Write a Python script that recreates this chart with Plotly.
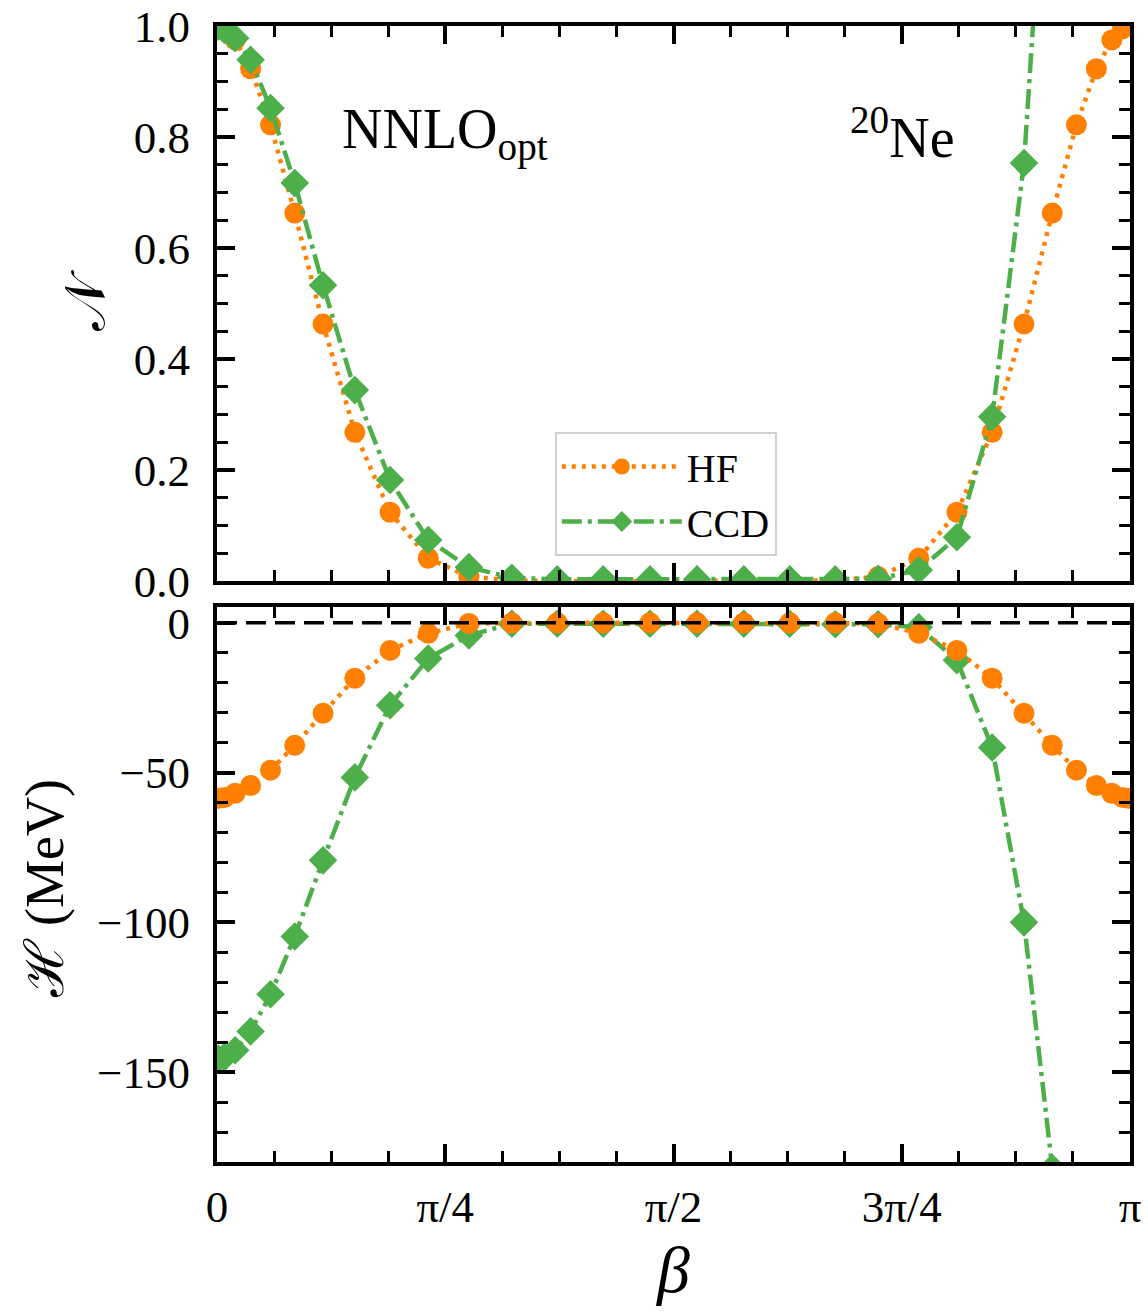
import math
import plotly.graph_objects as go

# ---------------- data ----------------
beta = [0.0047, 0.0255, 0.0626, 0.1157, 0.1843, 0.2675, 0.3648, 0.4743, 0.5956, 0.7268,
        0.8667, 1.0142, 1.1707, 1.3290, 1.4899, 1.6517, 1.8126, 1.9709, 2.1274, 2.2749,
        2.4148, 2.5460, 2.6673, 2.7768, 2.8741, 2.9573, 3.0259, 3.0790, 3.1162, 3.1369]

hf_norm = [1.000, 0.995, 0.975, 0.923, 0.822, 0.663, 0.463, 0.268, 0.124, 0.041,
           0.008, 0.001, 0.000, 0.000, 0.000, 0.000, 0.000, 0.000, 0.001, 0.008,
           0.041, 0.124, 0.268, 0.463, 0.663, 0.822, 0.923, 0.975, 0.995, 1.000]

ccd_norm = [0.999, 0.993, 0.978, 0.939, 0.852, 0.717, 0.533, 0.344, 0.182, 0.074,
            0.025, 0.006, 0.003, 0.003, 0.003, 0.003, 0.003, 0.003, 0.003, 0.004,
            0.020, 0.079, 0.296, 0.753, 1.530]

hf_energy = [-58.6, -58.3, -56.9, -54.3, -49.2, -40.9, -30.2, -18.5, -9.2, -3.5,
             -0.2, 0.0, 0.0, 0.0, 0.0, 0.0, 0.0, 0.0, 0.0, -0.2,
             -3.5, -9.2, -18.5, -30.2, -40.9, -49.2, -54.3, -56.9, -58.3, -58.6]

ccd_energy = [-145.5, -145.0, -142.7, -136.4, -124.0, -104.7, -79.3, -51.6, -27.5, -11.9,
              -4.2, -0.3, -0.3, -0.3, -0.3, -0.3, -0.3, -0.3, -0.5, -0.5,
              -1.5, -12.5, -41.6, -100.0, -182.0]

x_tickvals = [0, math.pi / 4, math.pi / 2, 3 * math.pi / 4, math.pi]
x_ticktext = ["0", "π/4", "π/2", "3π/4", "π"]
h_tickvals = [0, -50, -100, -150]

# ---------------- styling ----------------
FONT = "Liberation Serif"
ORANGE = "#ff7f00"
GREEN = "#4daf4a"
HF_STYLE = dict(line=dict(color=ORANGE, width=4.5, dash="4px,6px"),
                marker=dict(symbol="circle", size=21, color=ORANGE))
CCD_STYLE = dict(line=dict(color=GREEN, width=4.5, dash="20px,6px,4px,6px"),
                 marker=dict(symbol="diamond", size=22, color=GREEN))

fig = go.Figure()

# top panel: N
fig.add_trace(go.Scatter(x=beta, y=hf_norm, mode="lines+markers", name="HF",
                         xaxis="x", yaxis="y", legendrank=1, **HF_STYLE))
fig.add_trace(go.Scatter(x=beta[:len(ccd_norm)], y=ccd_norm, mode="lines+markers", name="CCD",
                         xaxis="x", yaxis="y", legendrank=2, **CCD_STYLE))
# bottom panel: H
fig.add_trace(go.Scatter(x=beta[:len(ccd_energy)], y=ccd_energy, mode="lines+markers", name="CCD",
                         xaxis="x2", yaxis="y2", showlegend=False, **CCD_STYLE))
fig.add_trace(go.Scatter(x=beta, y=hf_energy, mode="lines+markers", name="HF",
                         xaxis="x2", yaxis="y2", showlegend=False, **HF_STYLE))

fig.add_hline(y=0, line=dict(color="black", width=3.5, dash="20px,9px"),
              xref="x2", yref="y2", layer="above")

axis_common = dict(showline=True, linewidth=4, linecolor="black", mirror="allticks",
                   ticks="inside", ticklen=18, tickwidth=3.5, tickcolor="black",
                   showgrid=False, zeroline=False, automargin=False,
                   tickfont=dict(family=FONT, size=45, color="black"))
minor_common = dict(ticks="inside", ticklen=11, tickwidth=2.5, tickcolor="black", showgrid=False)

TOP_DOMAIN = [0.5114, 1.0]
BOT_DOMAIN = [0.0, 0.4886]

fig.update_layout(
    width=1148, height=1314,
    margin=dict(l=217, r=18, t=26, b=152),
    paper_bgcolor="white", plot_bgcolor="white",
    font=dict(family=FONT, color="black"),
    xaxis=dict(axis_common, domain=[0, 1], range=[0, math.pi], anchor="y",
               tickmode="array", tickvals=x_tickvals, ticktext=x_ticktext,
               showticklabels=False, matches="x2",
               minor=dict(minor_common, tick0=0, dtick=math.pi / 16)),
    xaxis2=dict(axis_common, domain=[0, 1], range=[0, math.pi], anchor="y2",
                tickmode="array", tickvals=x_tickvals, ticktext=x_ticktext,
                ticklabelstandoff=2,
                minor=dict(minor_common, tick0=0, dtick=math.pi / 16),
                title=dict(text="<i>β</i>", font=dict(family=FONT, size=66), standoff=16)),
    yaxis=dict(axis_common, domain=TOP_DOMAIN, range=[0, 1], anchor="x",
               tickmode="linear", tick0=0, dtick=0.2, tickformat=".1f",
               ticklabelstandoff=14,
               minor=dict(minor_common, tick0=0, dtick=0.05),
               title=dict(text="𝒩", font=dict(family=FONT, size=56), standoff=12)),
    yaxis2=dict(axis_common, domain=BOT_DOMAIN, range=[-180, 5.3], anchor="x2",
                tickmode="array", tickvals=h_tickvals,
                ticklabelstandoff=14,
                minor=dict(minor_common, tick0=0, dtick=10)),
    legend=dict(x=0.37, y=0.6426, xanchor="left", yanchor="top",
                bgcolor="rgba(255,255,255,0.85)", bordercolor="#d0d0d0", borderwidth=2,
                font=dict(family=FONT, size=40, color="black"),
                itemwidth=120, tracegroupgap=4),
    annotations=[
        dict(text="NNLO<sub>opt</sub>", xref="paper", yref="paper", x=0.25, y=0.905,
             xanchor="center", yanchor="middle", showarrow=False,
             font=dict(family=FONT, size=56, color="black")),
        dict(text="<sup>20</sup>Ne", xref="paper", yref="paper", x=0.75, y=0.905,
             xanchor="center", yanchor="middle", showarrow=False,
             font=dict(family=FONT, size=56, color="black")),
        dict(text="ℋ (MeV)", xref="paper", yref="paper", x=-0.188, y=0.241,
             xanchor="center", yanchor="middle", textangle=-90, showarrow=False,
             font=dict(family=FONT, size=54, color="black")),
    ],
)

fig.write_html("out.html", config={"displayModeBar": False},
               post_script="document.body.style.margin='0px';")
